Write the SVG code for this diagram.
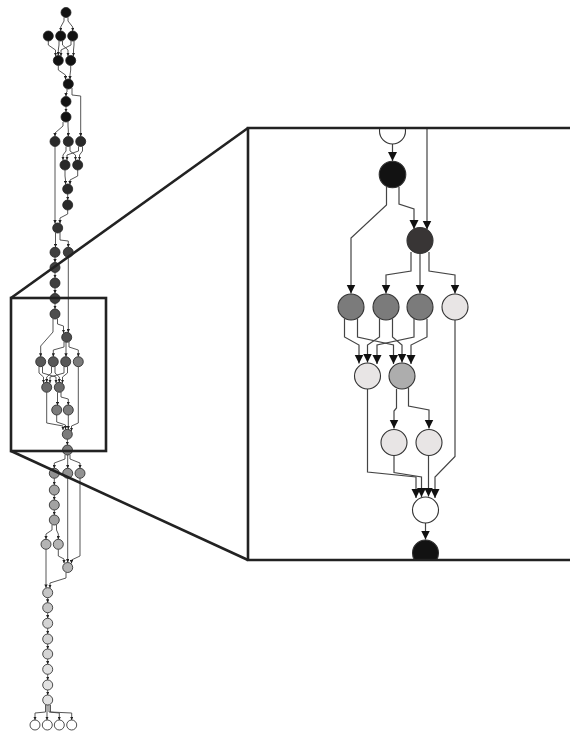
<svg xmlns="http://www.w3.org/2000/svg" width="570" height="734" viewBox="0 0 570 734">
  <style>
    .bg { fill: #ffffff; }
    .sn { stroke: #222; stroke-width: 0.8; }
    .se { fill: none; stroke: #444; stroke-width: 0.9; marker-end: url(#tipS); }
    .pn { stroke: #333; stroke-width: 1.1; }
    .pe { fill: none; stroke: #444; stroke-width: 1.2; marker-end: url(#tipL); }
    .frame { fill: none; stroke: #222; stroke-width: 2.6; }
    .k0 { fill: #121212; } .k1 { fill: #2a2a2a; } .k2 { fill: #333333; }
    .k3 { fill: #404040; } .k4 { fill: #4e4e4e; } .k5 { fill: #585858; }
    .k6 { fill: #6a6a6a; } .k7 { fill: #7c7c7c; } .k8 { fill: #929292; }
    .k9 { fill: #a2a2a2; } .k10 { fill: #b4b4b4; } .k11 { fill: #c6c6c6; }
    .k12 { fill: #d4d4d4; } .k13 { fill: #e2e2e2; } .kw { fill: #ffffff; }
    .pBlack { fill: #121212; } .pDark { fill: #383535; } .pGray { fill: #7b7b7b; }
    .pMid { fill: #adadad; } .pLight { fill: #e8e5e5; } .pWhite { fill: #ffffff; }
  </style>
  <defs>
    <marker id="tipS" viewBox="0 0 10 10" refX="10" refY="5" markerWidth="3.4" markerHeight="3.4" markerUnits="userSpaceOnUse" orient="auto">
      <path d="M0,0 L10,5 L0,10 z" fill="#222"/>
    </marker>
    <marker id="tipL" viewBox="0 0 10 10" refX="10" refY="5" markerWidth="9" markerHeight="9.5" markerUnits="userSpaceOnUse" orient="auto">
      <path d="M0,0 L10,5 L0,10 z" fill="#111"/>
    </marker>
    <clipPath id="panelClip">
      <rect x="248" y="128" width="322" height="432"/>
    </clipPath>
  </defs>

  <rect class="bg" x="0" y="0" width="570" height="734"/>

  <!-- overview graph: connectors -->
  <g id="overview-edges">
    <polyline class="se" points="64,17.5 64,21 60.7,27 60.7,31"/>
    <polyline class="se" points="68,17.5 68,21 72.7,27 72.7,31"/>
    <polyline class="se" points="48.3,41 48.3,45 55.5,50 55.5,56"/>
    <polyline class="se" points="59,41 59,45 58.3,50 58.3,55.5"/>
    <polyline class="se" points="62.5,41 62.5,45 68,50 68,56"/>
    <polyline class="se" points="71,41 71,45 61,50 61,56"/>
    <polyline class="se" points="74,41 74,45 73.5,50 73.5,56"/>
    <polyline class="se" points="58.3,65.5 58.3,70 65.5,75 65.5,79.5"/>
    <polyline class="se" points="70.7,65.5 70.7,70 70,75 70,79.5"/>
    <polyline class="se" points="67,89 67,92 66,93 66,96.5"/>
    <polyline class="se" points="72,88 72,95 80.7,96 80.7,136.5"/>
    <polyline class="se" points="66,106.5 66,112"/>
    <polyline class="se" points="63,122 63,126 55,133 55,136.5"/>
    <polyline class="se" points="68,122 68,126 68.3,130 68.3,136.5"/>
    <polyline class="se" points="66,146.5 66,151 63,155 63,160"/>
    <polyline class="se" points="70,146.5 70,151 75.5,155 75.5,160"/>
    <polyline class="se" points="78.5,146.5 78.5,151 67,155 67,160"/>
    <polyline class="se" points="82.5,146.5 82.5,151 79.5,155 79.5,160"/>
    <polyline class="se" points="65,170 65,176 65.5,180 65.5,184.2"/>
    <polyline class="se" points="77.7,170 77.7,176 70,180 70,184.5"/>
    <polyline class="se" points="67.7,194 67.7,200"/>
    <polyline class="se" points="55,146.5 55,223.5"/>
    <polyline class="se" points="67.7,210 67.7,214 60,218 60,223.5"/>
    <polyline class="se" points="55.5,233 55.5,247.3"/>
    <polyline class="se" points="60,232.5 60,240 68.3,241 68.3,247.3"/>
    <polyline class="se" points="55,257.3 55,262.5"/>
    <polyline class="se" points="55,272.5 55,278"/>
    <polyline class="se" points="55,288 55,293.5"/>
    <polyline class="se" points="55,303.5 55,309"/>
    <polyline class="se" points="68.3,257.3 68.3,332.5"/>
    <polyline class="se" points="57.5,319 57.5,324 63.5,326 63.5,333"/>
    <polyline class="se" points="53,319 53,332 40.7,346 40.7,356.7"/>
    <polyline class="se" points="64,342 64,347 53.3,350 53.3,356.7"/>
    <polyline class="se" points="66,342.3 66,356.7"/>
    <polyline class="se" points="69,342 69,347 78.3,350 78.3,356.7"/>
    <polyline class="se" points="39,366.7 39,373 43.5,377 43.5,383"/>
    <polyline class="se" points="42.5,366.7 42.5,373 56,377 56,383"/>
    <polyline class="se" points="51.5,366.7 51.5,373 46.7,377 46.7,382.3"/>
    <polyline class="se" points="55,366.7 55,373 59.3,377 59.3,382.3"/>
    <polyline class="se" points="64,366.7 64,373 50,377 50,383"/>
    <polyline class="se" points="67.5,366.7 67.5,373 62.5,377 62.5,383"/>
    <polyline class="se" points="57.5,392.3 57.5,405.3"/>
    <polyline class="se" points="61,392 61,397 68.3,399 68.3,405"/>
    <polyline class="se" points="46.7,392.3 46.7,423 63,426 63,430"/>
    <polyline class="se" points="56.7,415 56.7,422 65.5,425 65.5,429.5"/>
    <polyline class="se" points="68.3,415 68.3,429.3"/>
    <polyline class="se" points="78.3,366.7 78.3,423 71.5,426 71.5,431"/>
    <polyline class="se" points="67.4,439.3 67.4,445"/>
    <polyline class="se" points="65,455 65,459 54.3,463 54.3,468.3"/>
    <polyline class="se" points="67.7,455 67.7,468.3"/>
    <polyline class="se" points="70,455 70,459 80,463 80,468.3"/>
    <polyline class="se" points="54.3,478.3 54.3,485"/>
    <polyline class="se" points="54.3,495 54.3,500"/>
    <polyline class="se" points="54.3,510 54.3,515"/>
    <polyline class="se" points="52,525 52,530 46,534 46,539.3"/>
    <polyline class="se" points="56.5,525 56.5,530 58.3,534 58.3,539.3"/>
    <polyline class="se" points="67.7,478.3 67.7,562.5"/>
    <polyline class="se" points="80,478.3 80,556 71.5,560 71.5,563.5"/>
    <polyline class="se" points="58.3,549.3 58.3,556 64,559 64,563.2"/>
    <polyline class="se" points="46,549.3 46,587.8"/>
    <polyline class="se" points="66,572.5 66,578 50,583 50,588"/>
    <polyline class="se" points="47.7,597.7 47.7,602.7"/>
    <polyline class="se" points="47.7,612.7 47.7,618.3"/>
    <polyline class="se" points="47.7,628.3 47.7,634"/>
    <polyline class="se" points="47.7,644 47.7,649"/>
    <polyline class="se" points="47.7,659 47.7,664.3"/>
    <polyline class="se" points="47.7,674.3 47.7,680"/>
    <polyline class="se" points="47.7,690 47.7,695"/>
    <polyline class="se" points="45.5,705 45.5,712 35,713 35,720"/>
    <polyline class="se" points="47,705 47,720"/>
    <polyline class="se" points="49,705 49,712 59.3,713 59.3,720"/>
    <polyline class="se" points="50.5,705 50.5,712 71.7,713 71.7,720"/>
  </g>

  <!-- overview graph: nodes -->
  <g id="n1"><circle class="sn k0" cx="66" cy="12.5" r="5"/></g>
  <g id="n2a"><circle class="sn k0" cx="48.3" cy="36" r="5"/></g>
  <g id="n2b"><circle class="sn k0" cx="60.7" cy="36" r="5"/></g>
  <g id="n2c"><circle class="sn k0" cx="72.7" cy="36" r="5"/></g>
  <g id="n3a"><circle class="sn k0" cx="58.3" cy="60.5" r="5"/></g>
  <g id="n3b"><circle class="sn k0" cx="70.7" cy="60.5" r="5"/></g>
  <g id="n4"><circle class="sn k0" cx="68.3" cy="84" r="5"/></g>
  <g id="n5"><circle class="sn k0" cx="66" cy="101.5" r="5"/></g>
  <g id="n6"><circle class="sn k0" cx="66" cy="117" r="5"/></g>
  <g id="n7a"><circle class="sn k1" cx="55" cy="141.5" r="5"/></g>
  <g id="n7b"><circle class="sn k1" cx="68.3" cy="141.5" r="5"/></g>
  <g id="n7c"><circle class="sn k1" cx="80.7" cy="141.5" r="5"/></g>
  <g id="n8a"><circle class="sn k1" cx="65" cy="165" r="5"/></g>
  <g id="n8b"><circle class="sn k1" cx="77.7" cy="165" r="5"/></g>
  <g id="n9"><circle class="sn k1" cx="67.7" cy="189" r="5"/></g>
  <g id="n10"><circle class="sn k1" cx="67.7" cy="205" r="5"/></g>
  <g id="n11"><circle class="sn k2" cx="57.7" cy="228" r="5"/></g>
  <g id="n12a"><circle class="sn k3" cx="55" cy="252.3" r="5"/></g>
  <g id="n12b"><circle class="sn k3" cx="68.3" cy="252.3" r="5"/></g>
  <g id="n13"><circle class="sn k3" cx="55" cy="267.5" r="5"/></g>
  <g id="n14"><circle class="sn k3" cx="55" cy="283" r="5"/></g>
  <g id="n15"><circle class="sn k3" cx="55" cy="298.5" r="5"/></g>
  <g id="n16"><circle class="sn k4" cx="55" cy="314" r="5"/></g>
  <g id="n17"><circle class="sn k4" cx="66.7" cy="337.3" r="5"/></g>
  <g id="n18a"><circle class="sn k5" cx="40.7" cy="361.7" r="5"/></g>
  <g id="n18b"><circle class="sn k5" cx="53.3" cy="361.7" r="5"/></g>
  <g id="n18c"><circle class="sn k5" cx="65.7" cy="361.7" r="5"/></g>
  <g id="n18d"><circle class="sn k7" cx="78.3" cy="361.7" r="5"/></g>
  <g id="n19a"><circle class="sn k6" cx="46.7" cy="387.3" r="5"/></g>
  <g id="n19b"><circle class="sn k6" cx="59.3" cy="387.3" r="5"/></g>
  <g id="n20a"><circle class="sn k7" cx="56.7" cy="410" r="5"/></g>
  <g id="n20b"><circle class="sn k7" cx="68.3" cy="410" r="5"/></g>
  <g id="n21"><circle class="sn k7" cx="67.3" cy="434.3" r="5"/></g>
  <g id="n22"><circle class="sn k7" cx="67.5" cy="450" r="5"/></g>
  <g id="n23a"><circle class="sn k8" cx="54.3" cy="473.3" r="5"/></g>
  <g id="n23b"><circle class="sn k8" cx="67.7" cy="473.3" r="5"/></g>
  <g id="n23c"><circle class="sn k8" cx="80" cy="473.3" r="5"/></g>
  <g id="n24"><circle class="sn k9" cx="54.3" cy="490" r="5"/></g>
  <g id="n25"><circle class="sn k9" cx="54.3" cy="505" r="5"/></g>
  <g id="n26"><circle class="sn k9" cx="54.3" cy="520" r="5"/></g>
  <g id="n27a"><circle class="sn k10" cx="46" cy="544.3" r="5"/></g>
  <g id="n27b"><circle class="sn k10" cx="58.3" cy="544.3" r="5"/></g>
  <g id="n28"><circle class="sn k10" cx="67.7" cy="567.5" r="5"/></g>
  <g id="n29"><circle class="sn k11" cx="47.7" cy="592.7" r="5"/></g>
  <g id="n30"><circle class="sn k11" cx="47.7" cy="607.7" r="5"/></g>
  <g id="n31"><circle class="sn k12" cx="47.7" cy="623.3" r="5"/></g>
  <g id="n32"><circle class="sn k12" cx="47.7" cy="639" r="5"/></g>
  <g id="n33"><circle class="sn k12" cx="47.7" cy="654" r="5"/></g>
  <g id="n34"><circle class="sn k13" cx="47.7" cy="669.3" r="5"/></g>
  <g id="n35"><circle class="sn k13" cx="47.7" cy="685" r="5"/></g>
  <g id="n36"><circle class="sn k13" cx="47.7" cy="700" r="5"/></g>
  <g id="n37a"><circle class="sn kw" cx="35" cy="725" r="5"/></g>
  <g id="n37b"><circle class="sn kw" cx="47.3" cy="725" r="5"/></g>
  <g id="n37c"><circle class="sn kw" cx="59.3" cy="725" r="5"/></g>
  <g id="n37d"><circle class="sn kw" cx="71.7" cy="725" r="5"/></g>

  <!-- magnified section -->
  <g clip-path="url(#panelClip)">
    <g id="zoom-edges">
      <polyline class="pe" points="392.5,144 392.5,161"/>
      <polyline class="pe" points="427,126 427,229.5"/>
      <polyline class="pe" points="386.5,187 386.5,205 351,238 351,293.5"/>
      <polyline class="pe" points="399,187 399,204 414,209 414,229"/>
      <polyline class="pe" points="411,252 411,271 386,275 386,293.5"/>
      <polyline class="pe" points="420,253.5 420,293.5"/>
      <polyline class="pe" points="429,252 429,271 455,275 455,293.5"/>
      <polyline class="pe" points="344.5,319 344.5,337 359,345 359,363.5"/>
      <polyline class="pe" points="357.5,319 357.5,337 393.5,345 393.5,364"/>
      <polyline class="pe" points="379.5,319 379.5,337 367.5,345 367.5,362.5"/>
      <polyline class="pe" points="392.5,319 392.5,337 402,345 402,362.5"/>
      <polyline class="pe" points="414,319 414,337 377,345 377,364"/>
      <polyline class="pe" points="427,319 427,337 411,345 411,364"/>
      <polyline class="pe" points="367.5,389 367.5,472 416,477 416,498"/>
      <polyline class="pe" points="396.5,389 396.5,408 394,411 394,428.5"/>
      <polyline class="pe" points="408.5,388 408.5,406 429,410 429,428.5"/>
      <polyline class="pe" points="394,455.5 394,472.5 421.5,477 421.5,497"/>
      <polyline class="pe" points="428.5,455.5 428.5,496.5"/>
      <polyline class="pe" points="455,320 455,456.5 435,477 435,498"/>
      <polyline class="pe" points="425.5,523 425.5,539.5"/>
    </g>
    <g id="z-top"><circle class="pn pWhite" cx="392.5" cy="131" r="13"/></g>
    <g id="z-a"><circle class="pn pBlack" cx="392.5" cy="174.5" r="13.3"/></g>
    <g id="z-b"><circle class="pn pDark" cx="420" cy="240.5" r="13"/></g>
    <g id="z-c1"><circle class="pn pGray" cx="351" cy="307" r="13"/></g>
    <g id="z-c2"><circle class="pn pGray" cx="386" cy="307" r="13"/></g>
    <g id="z-c3"><circle class="pn pGray" cx="420" cy="307" r="13"/></g>
    <g id="z-c4"><circle class="pn pLight" cx="455" cy="307" r="13"/></g>
    <g id="z-d1"><circle class="pn pLight" cx="367.5" cy="376" r="13"/></g>
    <g id="z-d2"><circle class="pn pMid" cx="402" cy="376" r="13"/></g>
    <g id="z-e1"><circle class="pn pLight" cx="394" cy="442.5" r="13"/></g>
    <g id="z-e2"><circle class="pn pLight" cx="429" cy="442.5" r="13"/></g>
    <g id="z-f"><circle class="pn pWhite" cx="425.5" cy="510" r="13"/></g>
    <g id="z-g"><circle class="pn pBlack" cx="425.5" cy="553" r="13"/></g>
  </g>

  <!-- selection box, callout lines and magnified frame -->
  <g id="callout">
    <rect class="frame" x="11" y="298" width="95" height="153"/>
    <line class="frame" x1="11" y1="298" x2="248" y2="128"/>
    <line class="frame" x1="11" y1="451" x2="248" y2="560"/>
    <polyline class="frame" points="570,128 248,128 248,560 570,560"/>
  </g>
</svg>
